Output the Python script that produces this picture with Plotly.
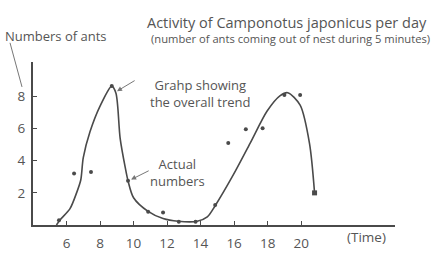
import plotly.graph_objects as go

# trend curve
curve_x = [5.4, 5.6, 6.2, 6.6, 6.85, 7.0, 7.4, 8.0, 8.7, 8.95, 9.2, 9.5, 9.67, 10.0, 10.87, 11.76,
           12.66, 13.8, 14.4, 14.87, 15.94, 16.96, 17.97, 18.75, 19.2, 19.94, 20.5, 20.8]
curve_y = [0, 0.3, 1.0, 2.0, 2.8, 4.2, 5.8, 7.4, 8.65, 8.2, 5.4, 3.6, 2.75, 1.7, 0.85, 0.4,
           0.23, 0.23, 0.5, 1.2, 3.1, 5.1, 7.1, 8.06, 8.24, 7.46, 5.07, 2.0]

# actual numbers
dots_x = [5.55, 6.45, 7.46, 8.7, 9.67, 10.87, 11.76, 12.7, 13.7, 14.87, 15.65, 16.7, 17.7, 19.0, 19.94]
dots_y = [0.3, 3.2, 3.3, 8.65, 2.75, 0.83, 0.78, 0.2, 0.2, 1.25, 5.1, 5.97, 6.03, 8.1, 8.1]
end_x = [20.8]
end_y = [2.0]

x_ticks = [6, 8, 10, 12, 14, 16, 18, 20]
y_ticks = [2, 4, 6, 8]

ink = "#4a4a4a"
font = "Open Sans"

fig = go.Figure()
fig.add_trace(go.Scatter(x=curve_x, y=curve_y, mode="lines",
                         line=dict(color=ink, width=1.6, shape="spline", smoothing=0.8),
                         hoverinfo="skip", showlegend=False))
fig.add_trace(go.Scatter(x=dots_x, y=dots_y, mode="markers",
                         marker=dict(color=ink, size=4), showlegend=False))
fig.add_trace(go.Scatter(x=end_x, y=end_y, mode="markers",
                         marker=dict(color=ink, size=5, symbol="square"), showlegend=False))

fig.update_layout(
    width=440, height=264,
    margin=dict(l=33, r=45, t=62, b=32),
    paper_bgcolor="white", plot_bgcolor="white",
    font=dict(family=font, color="#555555", size=13),
    xaxis=dict(range=[4, 25.6], tickvals=x_ticks, ticks="inside", ticklen=4, tickcolor=ink,
               showgrid=False, zeroline=False, showline=True, linecolor=ink, linewidth=2,
               ticklabelstandoff=5, tickfont=dict(size=13.5, color="#555555")),
    yaxis=dict(range=[0, 10.15], tickvals=y_ticks, ticks="inside", ticklen=4, tickcolor=ink,
               showgrid=False, zeroline=False, showline=True, linecolor=ink, linewidth=2,
               ticklabelstandoff=3, tickfont=dict(size=13.5, color="#555555")),
)

ann = []
ann.append(dict(text="Activity of Camponotus japonicus per day", xref="paper", yref="paper",
                x=(287 - 33) / 362, y=(232 - 21) / 170, showarrow=False,
                font=dict(size=14.5, color="#555555"), xanchor="center", yanchor="middle"))
ann.append(dict(text="(number of ants coming out of nest during 5 minutes)", xref="paper", yref="paper",
                x=(290 - 33) / 362, y=(232 - 38) / 170, showarrow=False,
                font=dict(size=11.2, color="#555555"), xanchor="center", yanchor="middle"))
ann.append(dict(text="Numbers of ants", xref="paper", yref="paper",
                x=(3 - 33) / 362, y=(232 - 35) / 170, showarrow=False, xanchor="left", yanchor="middle",
                font=dict(size=13, color="#555555")))
ann.append(dict(text="Grahp showing<br>the overall trend", xref="paper", yref="paper",
                x=(200 - 33) / 362, y=(232 - 95) / 170, showarrow=False, align="center",
                xanchor="center", yanchor="middle", font=dict(size=13, color="#555555")))
ann.append(dict(text="Actual<br>numbers", xref="paper", yref="paper",
                x=(177 - 33) / 362, y=(232 - 177) / 170, showarrow=False, align="center",
                xanchor="center", yanchor="middle", font=dict(size=13, color="#555555")))
ann.append(dict(text="(Time)", xref="paper", yref="paper",
                x=(366 - 33) / 362, y=(232 - 245) / 170, showarrow=False,
                xanchor="center", yanchor="middle", font=dict(size=13.5, color="#555555")))
# arrows
ann.append(dict(text="", x=8.96, y=8.3, xref="x", yref="y", showarrow=True, ax=20, ay=-12,
                arrowhead=2, arrowsize=1, arrowwidth=1, arrowcolor="#777777", standoff=1))
ann.append(dict(text="", x=9.8, y=2.8, xref="x", yref="y", showarrow=True, ax=20, ay=-10,
                arrowhead=2, arrowsize=1, arrowwidth=1, arrowcolor="#777777", standoff=1))
fig.update_layout(annotations=ann)

fig.add_shape(type="line", xref="paper", yref="paper",
              x0=(10 - 33) / 362, y0=(232 - 42) / 170, x1=(22 - 33) / 362, y1=(232 - 88) / 170,
              line=dict(color="#777777", width=1))

fig.write_html("out.html")
